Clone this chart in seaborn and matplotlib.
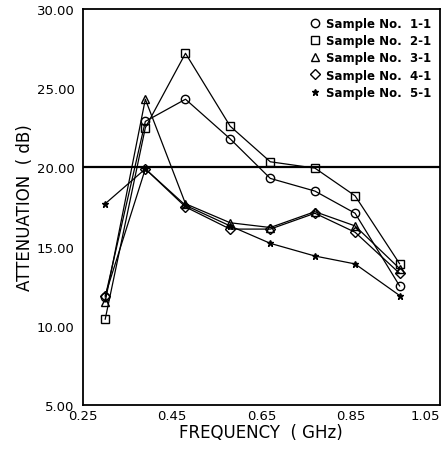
import matplotlib
matplotlib.use("Agg")
import matplotlib.pyplot as plt
import seaborn as sns
import pandas as pd
import numpy as np
from matplotlib.ticker import MultipleLocator, FormatStrFormatter

freq = [0.30, 0.39, 0.48, 0.58, 0.67, 0.77, 0.86, 0.96]
s1 = [11.8, 22.9, 24.3, 21.8, 19.3, 18.5, 17.1, 12.5]
s2 = [10.4, 22.5, 27.2, 22.6, 20.35, 19.95, 18.2, 13.9]
s3 = [11.5, 24.3, 17.7, 16.5, 16.2, 17.2, 16.3, 13.6]
s4 = [11.9, 19.9, 17.5, 16.1, 16.1, 17.1, 15.9, 13.3]
s5 = [17.7, 19.9, 17.6, 16.3, 15.2, 14.4, 13.9, 11.9]
labels = ["Sample No.  1-1", "Sample No.  2-1", "Sample No.  3-1",
          "Sample No.  4-1", "Sample No.  5-1"]
markers = ["o", "s", "^", "D", "*"]
msizes = [6, 6, 6, 5, 5]
reference_level = 20.0

sns.set_style("white")
plt.rcParams['font.family'] = ['DejaVu Sans']
plt.rcParams['text.color'] = 'black'
plt.rcParams['axes.labelcolor'] = 'black'
plt.rcParams['xtick.color'] = 'black'
plt.rcParams['ytick.color'] = 'black'

rows = []
for lab, vals in zip(labels, [s1, s2, s3, s4, s5]):
    for f, v in zip(freq, vals):
        rows.append({"freq": f, "att": v, "sample": lab})
df = pd.DataFrame(rows)

fig = plt.figure(figsize=(4.43, 4.52), dpi=100)
ax = fig.add_axes([0.187, 0.102, 0.806, 0.876])

for lab, mk, ms in zip(labels, markers, msizes):
    sub = df[df["sample"] == lab]
    sns.lineplot(data=sub, x="freq", y="att", ax=ax, color="black",
                 linewidth=0.9, marker=mk, markersize=ms,
                 markerfacecolor="none" if mk != "*" else "black",
                 markeredgecolor="black", markeredgewidth=1.0,
                 label=lab, sort=False)

ax.axhline(reference_level, color="black", linewidth=1.6)

ax.set_xlim(0.25, 1.05)
ax.set_ylim(5, 30)
ax.set_xticks([0.25, 0.45, 0.65, 0.85, 1.05])
ax.set_yticks([5, 10, 15, 20, 25, 30])
ax.xaxis.set_minor_locator(MultipleLocator(0.02))
ax.yaxis.set_minor_locator(MultipleLocator(0.5))
ax.xaxis.set_major_formatter(FormatStrFormatter("%.2f"))
ax.yaxis.set_major_formatter(FormatStrFormatter("%.2f"))
ax.tick_params(axis="x", which="major", direction="in", length=6, width=1.2,
               labelsize=9.5, pad=3, labelcolor="black")
ax.tick_params(axis="x", which="minor", direction="in", length=4, width=1.0)
ax.tick_params(axis="y", which="major", direction="inout", length=8, width=1.2,
               labelsize=9.5, pad=2, labelcolor="black")
ax.tick_params(axis="y", which="minor", direction="in", length=4, width=1.0)
ax.tick_params(which="both", color="black")
for sp in ax.spines.values():
    sp.set_color("black")
    sp.set_linewidth(1.3)

fig.canvas.draw()
xt = ax.get_xticklabels()
xt[-1].set_horizontalalignment("right")
xt[-1].set_x(1.05)

ax.set_xlabel("FREQUENCY  ( GHz)", fontsize=12, labelpad=1, color="black")
ax.set_ylabel("ATTENUATION  ( dB)", fontsize=12, labelpad=2, color="black")

leg = ax.legend(loc="upper right", frameon=False, fontsize=8.5,
                handlelength=0.8, handletextpad=0.6, labelspacing=0.35,
                borderaxespad=0.3)
for h in leg.legend_handles:
    h.set_linestyle("none")
for t in leg.get_texts():
    t.set_fontweight("bold")
    t.set_color("black")

fig.savefig("out.png", dpi=100)
